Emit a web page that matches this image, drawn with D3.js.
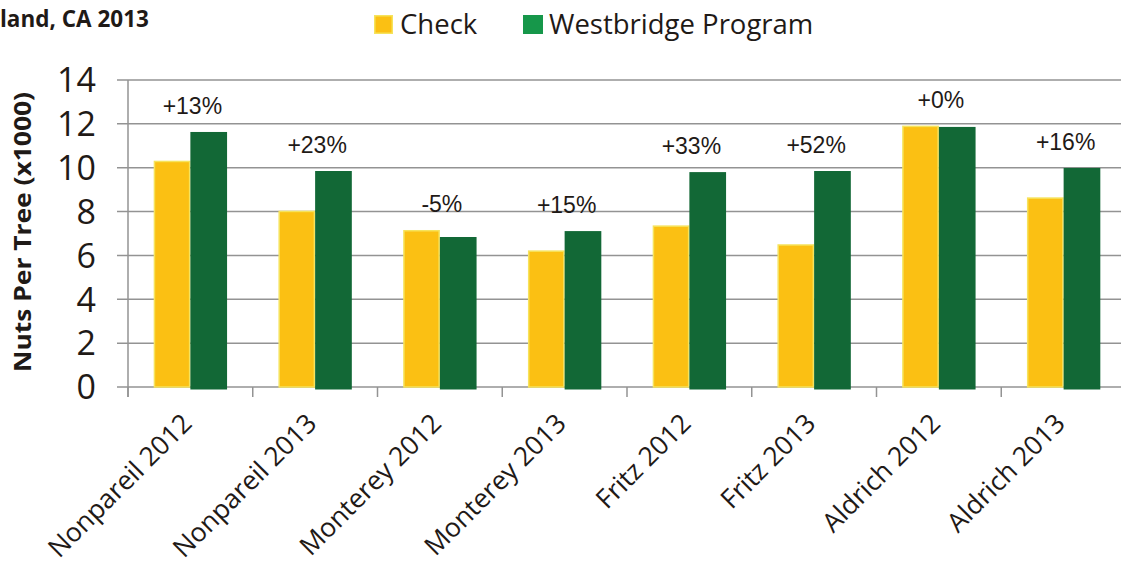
<!DOCTYPE html>
<html>
<head>
<meta charset="utf-8">
<script src="https://cdn.jsdelivr.net/npm/d3@7/dist/d3.min.js"></script>
<style>
  html, body { margin: 0; padding: 0; background: #ffffff; }
  svg { display: block; }
</style>
</head>
<body>
<svg id="chart" width="1121" height="567"></svg>
<script>
// ---- Data ----
const categories = ["Nonpareil 2012", "Nonpareil 2013", "Monterey 2012", "Monterey 2013",
                    "Fritz 2012", "Fritz 2013", "Aldrich 2012", "Aldrich 2013"];
const checkValues = [10.32, 8.04, 7.16, 6.23, 7.37, 6.51, 11.92, 8.65];
const westbridgeValues = [11.63, 9.85, 6.84, 7.11, 9.80, 9.85, 11.86, 9.99];
const changeLabels = ["+13%", "+23%", "-5%", "+15%", "+33%", "+52%", "+0%", "+16%"];
const seriesNames = ["Check", "Westbridge Program"];
const yTicks = [0, 2, 4, 6, 8, 10, 12, 14];
const titleText = "land, CA 2013";
const yAxisTitle = "Nuts Per Tree (x1000)";

// ---- Layout ----
const W = 1121, H = 567;
const plotLeft = 128, plotRight = 1126, plotTop = 80, plotBottom = 387;
const textColor = "#1f1a17";
const gridColor = "#939393";
const checkFill = "#fbc013", checkStroke = "#f6e35c";
const westFill = "#126836", westLegend = "#16974a";

const svg = d3.select("#chart");
svg.append("rect").attr("width", W).attr("height", H).attr("fill", "#fff");

const y = d3.scaleLinear().domain([0, 14]).range([plotBottom, plotTop]);
const x0 = d3.scaleBand().domain(categories).range([plotLeft, plotRight]).padding(0);
const x1 = d3.scaleBand().domain(["check", "west"]).range([0, x0.bandwidth()])
  .paddingInner(0).paddingOuter(0.7);

// gridlines
svg.append("g").selectAll("line").data(yTicks).join("line")
  .attr("x1", plotLeft - 11).attr("x2", plotRight)
  .attr("y1", d => y(d)).attr("y2", d => y(d))
  .attr("stroke", gridColor).attr("stroke-width", 1.5);

// y axis line
svg.append("line")
  .attr("x1", plotLeft).attr("x2", plotLeft)
  .attr("y1", plotTop).attr("y2", plotBottom + 10)
  .attr("stroke", gridColor).attr("stroke-width", 1.5);

// x ticks at band boundaries
const boundaries = categories.map(c => x0(c)).concat([x0(categories[categories.length - 1]) + x0.bandwidth()]);
svg.append("g").selectAll("line").data(boundaries).join("line")
  .attr("x1", d => d).attr("x2", d => d)
  .attr("y1", plotBottom).attr("y2", plotBottom + 10)
  .attr("stroke", gridColor).attr("stroke-width", 1.5);

// y tick labels
svg.append("g").selectAll("text").data(yTicks).join("text")
  .attr("x", 96).attr("y", d => y(d)).attr("dy", "0.36em")
  .attr("text-anchor", "end")
  .attr("font-family", "'Open Sans', sans-serif").attr("font-size", 34)
  .attr("fill", textColor)
  .text(d => d);

// bars
const groups = svg.append("g").selectAll("g").data(categories).join("g")
  .attr("transform", c => `translate(${x0(c)},0)`);

groups.append("rect")
  .attr("x", (c, i) => x1("check") + 0.75)
  .attr("y", (c, i) => y(checkValues[i]) + 0.75)
  .attr("width", x1.bandwidth() - 1.5)
  .attr("height", (c, i) => y(0) - y(checkValues[i]) - 0.75)
  .attr("fill", checkFill).attr("stroke", checkStroke).attr("stroke-width", 1.5);

groups.append("rect")
  .attr("x", (c, i) => x1("west"))
  .attr("y", (c, i) => y(westbridgeValues[i]))
  .attr("width", x1.bandwidth())
  .attr("height", (c, i) => y(0) - y(westbridgeValues[i]) + 2.5)
  .attr("fill", westFill);

// change labels
groups.append("text")
  .attr("x", x0.bandwidth() / 2 + 2)
  .attr("y", (c, i) => y(Math.max(checkValues[i], westbridgeValues[i])) - 18)
  .attr("text-anchor", "middle")
  .attr("font-family", "'Liberation Sans', Arial, sans-serif").attr("font-size", 23)
  .attr("fill", textColor)
  .text((c, i) => changeLabels[i]);

// x labels
groups.append("text")
  .attr("text-anchor", "end")
  .attr("transform", `translate(${x0.bandwidth() / 2 + 3},425) rotate(-45)`)
  .attr("font-family", "'Open Sans', sans-serif").attr("font-size", 26.5)
  .attr("fill", textColor)
  .text(c => c);

// y axis title
svg.append("text")
  .attr("transform", "translate(31,232) rotate(-90)")
  .attr("text-anchor", "middle")
  .attr("font-family", "'Open Sans', sans-serif").attr("font-weight", "bold")
  .attr("font-size", 23)
  .attr("textLength", 280).attr("lengthAdjust", "spacingAndGlyphs")
  .attr("fill", textColor)
  .text(yAxisTitle);

// title (cropped)
svg.append("text")
  .attr("x", 0).attr("y", 27)
  .attr("font-family", "'Open Sans', sans-serif").attr("font-weight", "bold")
  .attr("font-size", 22.5)
  .attr("fill", textColor)
  .text(titleText);

// legend
const legendItems = [
  { name: seriesNames[0], x: 374, fill: checkFill, stroke: checkStroke },
  { name: seriesNames[1], x: 523, fill: westLegend, stroke: null }
];
const lg = svg.append("g").selectAll("g").data(legendItems).join("g")
  .attr("transform", d => `translate(${d.x},15)`);
lg.append("rect")
  .attr("x", d => d.stroke ? 0.75 : 0).attr("y", d => d.stroke ? 0.75 : 0)
  .attr("width", d => d.stroke ? 17.5 : 20).attr("height", d => d.stroke ? 17.5 : 19)
  .attr("fill", d => d.fill)
  .attr("stroke", d => d.stroke || "none").attr("stroke-width", 1.5);
lg.append("text")
  .attr("x", 26).attr("y", 19)
  .attr("font-family", "'Open Sans', sans-serif").attr("font-size", 27.5)
  .attr("fill", textColor)
  .text(d => d.name);
</script>
</body>
</html>
